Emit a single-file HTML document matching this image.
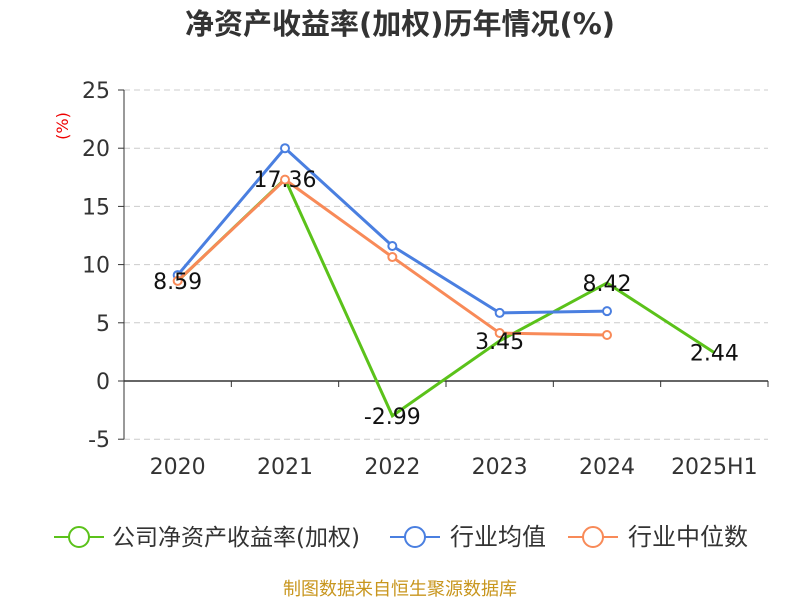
<!DOCTYPE html>
<html><head><meta charset="utf-8"><style>
body{margin:0;background:#fff;}
svg text{font-family:"DejaVu Sans","Noto Sans CJK SC",sans-serif;}
</style></head><body>
<svg id="chart" width="800" height="600" xmlns="http://www.w3.org/2000/svg">
<text x="400" y="34" text-anchor="middle" font-size="29" font-weight="bold" fill="#333">净资产收益率(加权)历年情况(%)</text>
<text x="68" y="126" text-anchor="middle" font-size="16" fill="#e00" transform="rotate(-90 68 126)">(%)</text>
<g id="grid"></g><g id="axes"></g><g id="series"></g>
<g>
<g><line x1="54" y1="537" x2="104" y2="537" stroke="#5bc21a" stroke-width="2"/><circle cx="79" cy="537" r="10" fill="#fff" stroke="#5bc21a" stroke-width="2"/><text x="112" y="545" font-size="23" fill="#333">公司净资产收益率(加权)</text></g>
<g><line x1="390" y1="537" x2="440" y2="537" stroke="#4a7fe0" stroke-width="2"/><circle cx="415" cy="537" r="10" fill="#fff" stroke="#4a7fe0" stroke-width="2"/><text x="450" y="545" font-size="24" fill="#333">行业均值</text></g>
<g><line x1="568" y1="537" x2="618" y2="537" stroke="#f88a58" stroke-width="2"/><circle cx="593" cy="537" r="10" fill="#fff" stroke="#f88a58" stroke-width="2"/><text x="628" y="545" font-size="24" fill="#333">行业中位数</text></g>
</g>
<text x="400" y="595" text-anchor="middle" font-size="18" fill="#c8961e">制图数据来自恒生聚源数据库</text>
</svg>
<script>
const categories=["2020","2021","2022","2023","2024","2025H1"];
const companyValues=[8.59,17.36,-2.99,3.45,8.42,2.44];
const industryAvg=[9.1,20.0,11.6,5.85,6.0,null];
const industryMedian=[8.6,17.3,10.65,4.12,3.95,null];
const yTicks=[-5,0,5,10,15,20,25];
const NS="http://www.w3.org/2000/svg";
const x0=124,x1=768,bw=(x1-x0)/categories.length;
const X=i=>x0+bw*(i+0.5);
const Y=v=>381-v*11.64;
function mk(tag,attrs,parent,txt){const e=document.createElementNS(NS,tag);for(const k in attrs)e.setAttribute(k,attrs[k]);if(txt!=null)e.textContent=txt;document.getElementById(parent).appendChild(e);return e;}
yTicks.forEach(t=>{
 let e=mk('line',{x1:x0,x2:x1,y1:Y(t),y2:Y(t),stroke:t===0?'#333':'#ccc','stroke-dasharray':t===0?'':'6,4','stroke-width':t===0?1.5:1},'grid');
 
 
 e=mk('line',{x1:x0-6,x2:x0,y1:Y(t),y2:Y(t),stroke:'#333'},'axes');
 
 
 e=mk('text',{x:x0-14,y:Y(t)+8,'text-anchor':'end','font-size':22,fill:'#333'},'axes',t);
 
 
});
let ax=mk('line',{x1:x0,x2:x0,y1:Y(25),y2:Y(-5),stroke:'#333'},'axes');


categories.forEach((c,i)=>{
 let e=mk('line',{x1:x0+bw*(i+1),x2:x0+bw*(i+1),y1:Y(0),y2:Y(0)+6,stroke:'#333'},'axes');
 
 
 e=mk('text',{x:X(i),y:474,'text-anchor':'middle','font-size':22,fill:'#333'},'axes',c);
 
 
});
function series(vals,color,name,markers){
 const pts=vals.map((v,i)=>v==null?null:[X(i),Y(v)]).filter(p=>p);
 let p=mk('polyline',{points:pts.map(p=>p.join(',')).join(' '),fill:'none',stroke:color,'stroke-width':3},'series');
 
 
 if(markers)pts.forEach(q=>{let c=mk('circle',{cx:q[0],cy:q[1],r:4,fill:'#fff',stroke:color,'stroke-width':2},'series');
  
  });
}
series(companyValues,'#5bc21a','company',false);
series(industryAvg,'#4a7fe0','industry-average',true);
series(industryMedian,'#f88a58','industry-median',true);
companyValues.forEach((v,i)=>{let t=mk('text',{x:X(i),y:Y(v)+8,'text-anchor':'middle','font-size':22,fill:'#111'},'series',v.toFixed(2));
 
 });
</script>
</body></html>
